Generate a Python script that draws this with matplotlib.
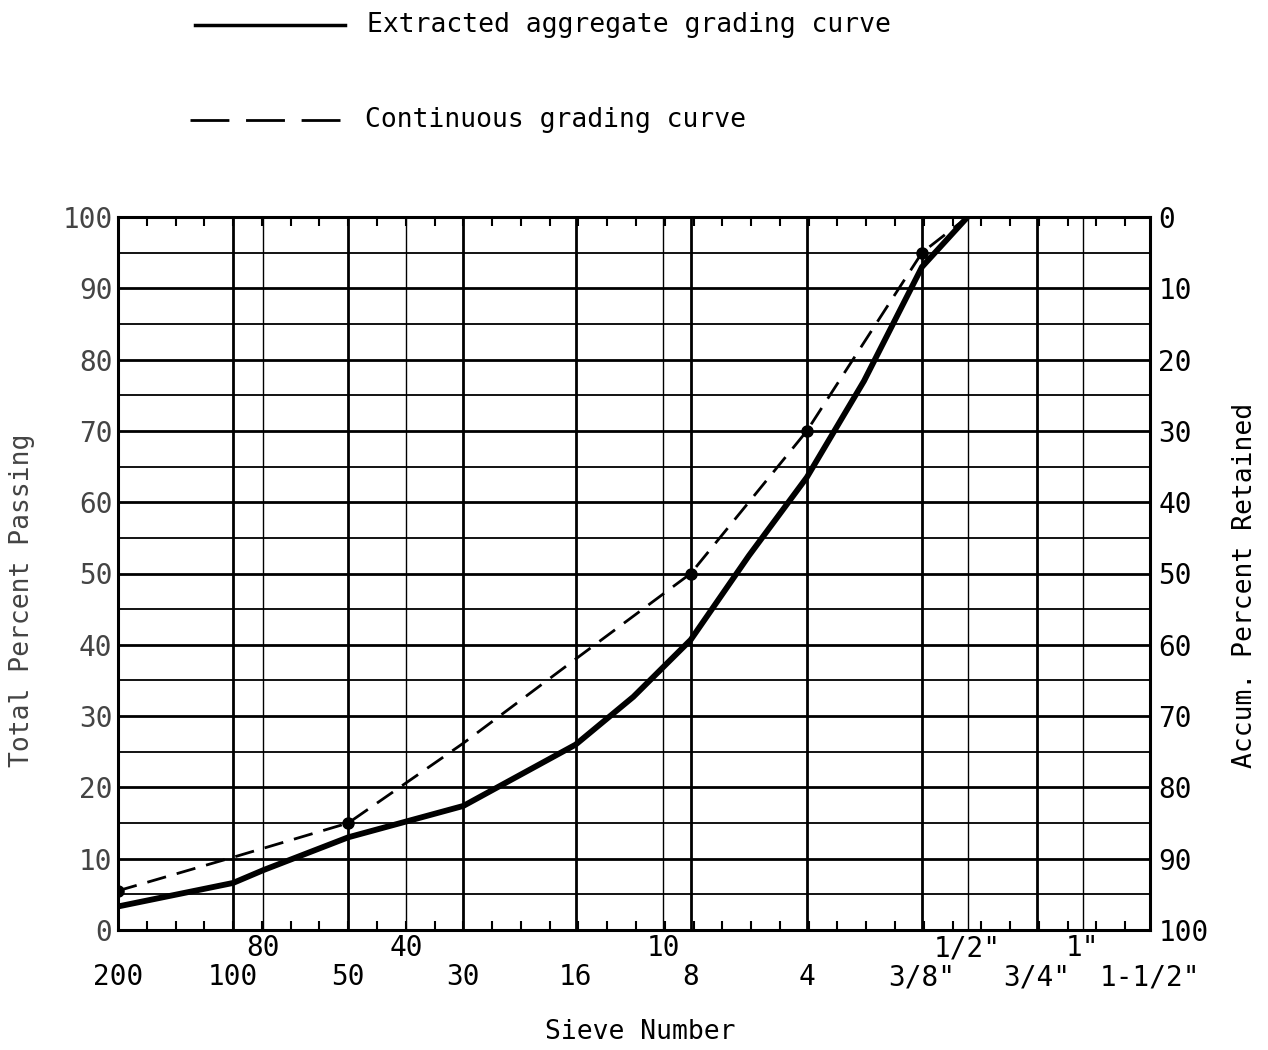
import numpy as np
import matplotlib
matplotlib.use("Agg")
import matplotlib.pyplot as plt

plt.rcParams['font.family'] = ['DejaVu Sans Mono']

# sieve openings in mm and their names
main_sieves = [0.075, 0.15, 0.3, 0.6, 1.18, 2.36, 4.75, 9.5, 19.0, 37.5]
main_labels = ["200", "100", "50", "30", "16", "8", "4", '3/8"', '3/4"', '1-1/2"']
extra_sieves = [0.18, 0.425, 2.0, 12.5, 25.0]
extra_labels = ["80", "40", "10", '1/2"', '1"']

# extracted aggregate grading (percent passing)
extracted_size = [0.075, 0.15, 0.18, 0.3, 0.6, 1.18, 1.67, 2.36, 3.35, 4.75, 6.7, 9.5, 12.5]
extracted_pass = [3.3, 6.6, 8.4, 13.0, 17.4, 26.0, 32.7, 40.7, 52.5, 63.5, 77.0, 93.0, 100.0]

# continuous grading curve
continuous_size = [0.075, 0.15, 0.3, 0.6, 1.18, 2.36, 4.75, 9.5, 12.5]
continuous_pass = [5.5, 10.2, 15.0, 26.2, 38.0, 50.0, 70.0, 95.0, 100.0]
marked_size = [0.075, 0.3, 2.36, 4.75, 9.5]
marked_pass = [5.5, 15.0, 50.0, 70.0, 95.0]

fig = plt.figure(figsize=(12.68, 10.5), dpi=100)
ax = fig.add_axes([118 / 1268, 1 - 930 / 1050, 1032 / 1268, 713 / 1050])
ax.set_xscale('log')
ax.set_xlim(0.075, 37.5)
ax.set_ylim(0, 100)

# grid
ax.set_yticks(np.arange(0, 101, 10))
ax.set_yticks(np.arange(5, 100, 10), minor=True)
ax.set_xticks(main_sieves, main_labels)
ax.set_xticks(extra_sieves, extra_labels, minor=True)
ax.grid(which='major', axis='y', color='black', lw=2.0)
ax.grid(which='minor', axis='y', color='black', lw=1.3)
ax.grid(which='major', axis='x', color='black', lw=2.0)
ax.grid(which='minor', axis='x', color='black', lw=1.0)
ax.set_axisbelow(True)

ax.tick_params(axis='x', which='major', length=0, pad=24, labelsize=20)
ax.tick_params(axis='x', which='minor', length=0, pad=3, labelsize=20)
ax.tick_params(axis='y', which='both', length=0, pad=4, labelsize=20, labelcolor='#444444')
for sp in ax.spines.values():
    sp.set_linewidth(2.2)

# small inward ticks along top and bottom edges
quarter = [main_sieves[0] * 2 ** (k / 4) for k in range(1, 36)]
ax.vlines(quarter, 0, 0.013, transform=ax.get_xaxis_transform(), color='black', lw=1.5)
ax.vlines(quarter, 0.987, 1, transform=ax.get_xaxis_transform(), color='black', lw=1.5)

ax.plot(extracted_size, extracted_pass, color='black', lw=4.2, solid_capstyle='round')
ax.plot(continuous_size, continuous_pass, color='black', lw=2.0, dashes=(7, 4))
ax.plot(marked_size, marked_pass, 'o', color='black', ms=8)

# retained scale on the right
ax2 = ax.twinx()
ax2.set_ylim(100, 0)
ax2.set_yticks(np.arange(0, 101, 10))
ax2.tick_params(axis='y', length=0, pad=6, labelsize=20)
for sp in ax2.spines.values():
    sp.set_visible(False)

fig.text(22 / 1268, 1 - 600 / 1050, "Total Percent Passing", rotation=90,
         ha='center', va='center', fontsize=19, color='#444444')
fig.text(1245 / 1268, 1 - 585 / 1050, "Accum. Percent Retained", rotation=90,
         ha='center', va='center', fontsize=19)
fig.text(640 / 1268, 1 - 1032 / 1050, "Sieve Number", ha='center', va='center', fontsize=19)

# legend drawn above the chart
fig.add_artist(plt.Line2D([195 / 1268, 345 / 1268], [1 - 25 / 1050] * 2, color='black', lw=2.5))
fig.text(367 / 1268, 1 - 25 / 1050, "Extracted aggregate grading curve",
         ha='left', va='center', fontsize=19)
fig.add_artist(plt.Line2D([190 / 1268, 340 / 1268], [1 - 120 / 1050] * 2, color='black',
                          lw=2.0, dashes=(14, 6)))
fig.text(365 / 1268, 1 - 120 / 1050, "Continuous grading curve",
         ha='left', va='center', fontsize=19)

fig.savefig("out.png", dpi=100, facecolor='white')
